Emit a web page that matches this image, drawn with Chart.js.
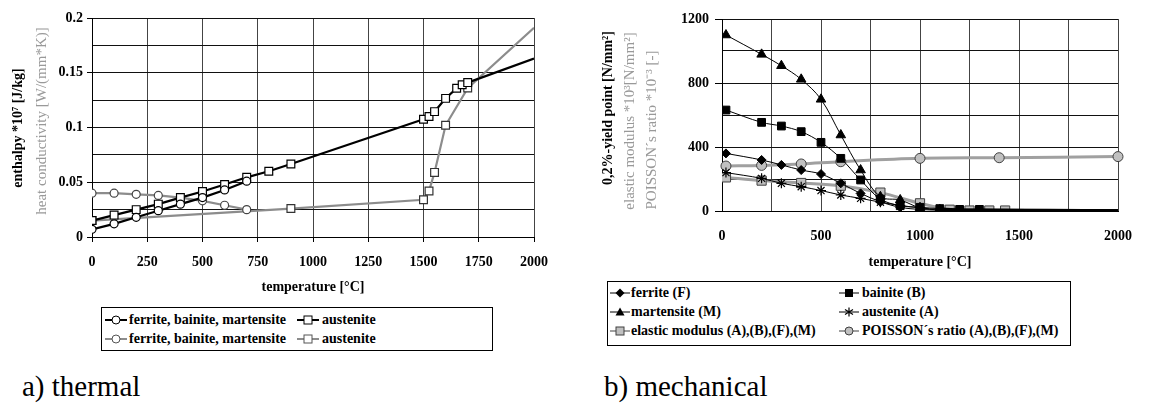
<!DOCTYPE html>
<html>
<head>
<meta charset="utf-8">
<script src="https://cdn.jsdelivr.net/npm/chart.js@4/dist/chart.umd.min.js"></script>
<style>
  body { margin: 0; background: #fff; width: 1149px; height: 405px; overflow: hidden; font-family: "Liberation Serif", "Times New Roman", serif; }
  .wrap { position: absolute; }
  .legend { position: absolute; border: 1px solid #000; font-weight: bold; font-size: 14px; color: #000; }
  .row { position: absolute; white-space: nowrap; height: 16px; line-height: 16px; }
  .row svg { position: absolute; left: 0; top: 2px; }
  .row span { position: absolute; }
  .cap { position: absolute; font-family: "Liberation Serif", serif; font-size: 29px; color: #000; }
</style>
</head>
<body>

<div class="wrap" style="left:0;top:0;width:560px;height:300px"><canvas id="thermal" width="560" height="300"></canvas></div>
<div class="wrap" style="left:580px;top:0;width:569px;height:275px"><canvas id="mech" width="569" height="275"></canvas></div>

<div class="legend" style="left:101px;top:307px;width:390px;height:42px">
  <div class="row" style="left:3px;top:4px">
    <svg width="22" height="12"><line x1="0" y1="6" x2="22" y2="6" stroke="#000" stroke-width="2"/><circle cx="11" cy="6" r="4" fill="#fff" stroke="#000"/></svg>
    <span style="left:24px">ferrite, bainite, martensite</span>
  </div>
  <div class="row" style="left:195px;top:4px">
    <svg width="22" height="12"><line x1="0" y1="6" x2="22" y2="6" stroke="#000" stroke-width="2"/><rect x="7" y="2" width="8" height="8" fill="#fff" stroke="#000"/></svg>
    <span style="left:25px">austenite</span>
  </div>
  <div class="row" style="left:3px;top:23px">
    <svg width="22" height="12"><line x1="0" y1="6" x2="22" y2="6" stroke="#8c8c8c" stroke-width="2"/><circle cx="11" cy="6" r="4" fill="#fff" stroke="#555"/></svg>
    <span style="left:24px">ferrite, bainite, martensite</span>
  </div>
  <div class="row" style="left:195px;top:23px">
    <svg width="22" height="12"><line x1="0" y1="6" x2="22" y2="6" stroke="#8c8c8c" stroke-width="2"/><rect x="7" y="2" width="8" height="8" fill="#fff" stroke="#555"/></svg>
    <span style="left:25px">austenite</span>
  </div>
</div>

<div class="legend" style="left:607px;top:281px;width:462px;height:63px">
  <div class="row" style="left:2px;top:3px">
    <svg width="20" height="12"><line x1="0" y1="6" x2="20" y2="6" stroke="#000"/><path d="M10 1.5 L14.5 6 L10 10.5 L5.5 6 Z" fill="#000"/></svg>
    <span style="left:21px">ferrite (F)</span>
  </div>
  <div class="row" style="left:231px;top:3px">
    <svg width="20" height="12"><line x1="0" y1="6" x2="20" y2="6" stroke="#000"/><rect x="6" y="2" width="8" height="8" fill="#000"/></svg>
    <span style="left:23px">bainite (B)</span>
  </div>
  <div class="row" style="left:2px;top:22px">
    <svg width="20" height="12"><line x1="0" y1="6" x2="20" y2="6" stroke="#000"/><path d="M10 1.5 L14.5 9.5 L5.5 9.5 Z" fill="#000"/></svg>
    <span style="left:21px">martensite (M)</span>
  </div>
  <div class="row" style="left:231px;top:22px">
    <svg width="20" height="12"><line x1="0" y1="6" x2="20" y2="6" stroke="#000"/><path d="M10 1.5 L10 10.5 M6 3.5 L14 8.5 M14 3.5 L6 8.5" stroke="#000" stroke-width="1.2"/></svg>
    <span style="left:23px">austenite (A)</span>
  </div>
  <div class="row" style="left:2px;top:41px">
    <svg width="20" height="12"><line x1="0" y1="6" x2="20" y2="6" stroke="#a0a0a0" stroke-width="2"/><rect x="6" y="2" width="8" height="8" fill="#c0c0c0" stroke="#404040"/></svg>
    <span style="left:21px">elastic modulus (A),(B),(F),(M)</span>
  </div>
  <div class="row" style="left:231px;top:41px">
    <svg width="20" height="12"><line x1="0" y1="6" x2="20" y2="6" stroke="#a0a0a0" stroke-width="2"/><circle cx="10" cy="6" r="4" fill="#c0c0c0" stroke="#404040"/></svg>
    <span style="left:23px">POISSON´s ratio (A),(B),(F),(M)</span>
  </div>
</div>

<div class="cap" style="left:22px;top:370px">a) thermal</div>
<div class="cap" style="left:604px;top:370px">b) mechanical</div>

<script>
// ---- a) thermal ----
const tEnthFBM = [0, 100, 200, 300, 400, 500, 600, 700];
const enthFBM = [0.007, 0.012, 0.018, 0.024, 0.030, 0.036, 0.043, 0.051];
const tEnthA = [0, 100, 200, 300, 400, 500, 600, 700, 800, 900, 1500, 1525, 1550, 1600, 1650, 1675, 1700, 2000];
const enthA = [0.015, 0.020, 0.025, 0.030, 0.036, 0.0415, 0.048, 0.0545, 0.060, 0.0667, 0.1075, 0.110, 0.1145, 0.1266, 0.1358, 0.139, 0.141, 0.163];
const tCondFBM = [0, 100, 200, 300, 400, 500, 600, 700];
const condFBM = [0.040, 0.040, 0.039, 0.038, 0.036, 0.033, 0.029, 0.025];
const tCondA = [0, 900, 1500, 1525, 1550, 1600, 1700, 2000];
const condA = [0.015, 0.026, 0.034, 0.042, 0.059, 0.102, 0.136, 0.191];

// ---- b) mechanical ----
const tF = [20, 200, 300, 400, 500, 600, 700, 800, 900, 1000, 1100, 2000];
const yieldF = [360, 319, 288, 256, 231, 173, 110, 58, 23, 10, 5, 3];
const tB = [20, 200, 300, 400, 500, 600, 700, 800, 900, 1000, 1100, 1200, 1300, 2000];
const yieldB = [631, 554, 531, 496, 429, 329, 194, 75, 33, 23, 15, 10, 10, 5];
const tM = [20, 200, 300, 400, 500, 600, 700, 800, 900, 1000, 1100, 2000];
const yieldM = [1100, 979, 908, 823, 698, 475, 256, 89, 69, 20, 8, 5];
const tA = [20, 200, 300, 400, 500, 600, 700, 800, 900, 1000, 1100, 2000];
const yieldA = [240, 204, 173, 152, 128, 100, 79, 55, 35, 20, 10, 4];
const tE = [20, 200, 400, 600, 800, 1000, 1150, 1250, 1350, 1430];
const elastic = [210, 190, 175, 158, 115, 48, 8, 3, 3, 3];
const tP = [20, 200, 400, 600, 1000, 1400, 2000];
const poisson = [281, 285, 294, 308, 329, 333, 340];

const pts = (xs, ys) => xs.map((x, i) => ({ x: x, y: ys[i] }));
// no marker on the point that just runs the line out to 2000
const noEnd = r => ctx => (ctx.raw && ctx.raw.x === 2000) ? 0 : r;

const serif = "'Liberation Serif', 'Times New Roman', serif";
Chart.defaults.font.family = serif;
Chart.defaults.font.size = 14;
Chart.defaults.color = "#000";

// rotated multi-colour axis titles
const sideTitles = {
    id: "sideTitles",
    afterDraw(chart, args, opts) {
        const ctx = chart.ctx;
        for (const l of opts.lines) {
            ctx.save();
            ctx.translate(l.x, l.y);
            ctx.rotate(-Math.PI / 2);
            ctx.font = l.font;
            ctx.fillStyle = l.color;
            ctx.textAlign = "center";
            ctx.textBaseline = "middle";
            ctx.fillText(l.text, 0, 0);
            ctx.restore();
        }
    }
};

const black = "#000";
const gray = "#8c8c8c";

new Chart(document.getElementById("thermal"), {
    type: "line",
    data: {
        datasets: [
            { data: pts(tEnthFBM, enthFBM), borderColor: black, borderWidth: 2.2, pointStyle: "circle", pointRadius: 4, pointBackgroundColor: "#fff", pointBorderColor: black, pointBorderWidth: 1.2 },
            { data: pts(tEnthA, enthA), borderColor: black, borderWidth: 2.2, pointStyle: "rect", pointRadius: noEnd(5.5), pointBackgroundColor: "#fff", pointBorderColor: black, pointBorderWidth: 1.2 },
            { data: pts(tCondFBM, condFBM), borderColor: gray, borderWidth: 2.2, pointStyle: "circle", pointRadius: 4, pointBackgroundColor: "#fff", pointBorderColor: "#444", pointBorderWidth: 1.2 },
            { data: pts(tCondA, condA), borderColor: gray, borderWidth: 2.2, pointStyle: "rect", pointRadius: noEnd(5.5), pointBackgroundColor: "#fff", pointBorderColor: "#333", pointBorderWidth: 1.2 }
        ]
    },
    options: {
        responsive: false,
        animation: false,
        layout: { padding: { left: 52, top: 18, right: 16, bottom: 0 } },
        plugins: {
            legend: { display: false },
            tooltip: { enabled: false },
            sideTitles: {
                lines: [
                    { text: "enthalpy *10⁷ [J/kg]", x: 18, y: 128, font: "bold 14px " + serif, color: "#000" },
                    { text: "heat conductivity [W/(mm*K)]", x: 42, y: 121, font: "15px " + serif, color: "#999" }
                ]
            }
        },
        scales: {
            x: {
                type: "linear", min: 0, max: 2000,
                afterFit: s => { s.height = 63; },
                ticks: { stepSize: 250, autoSkip: false, maxRotation: 0, padding: 12, font: { weight: "bold" }, callback: v => String(v) },
                grid: { color: "#444", tickLength: 5, tickColor: "#000" },
                border: { color: "#000" },
                title: { display: true, text: "temperature [°C]", font: { weight: "bold" }, padding: { top: 0, bottom: 4 } }
            },
            y: {
                min: 0, max: 0.2,
                afterFit: s => { s.width = 40; },
                ticks: {
                    stepSize: 0.025, padding: 4, font: { weight: "bold" },
                    callback: v => (Math.round(v * 1000) % 50 === 0) ? String(Math.round(v * 1000) / 1000) : ""
                },
                grid: {
                    color: "#111", tickLength: 5,
                    tickColor: c => (c.tick && Math.round(c.tick.value * 1000) % 50 === 0) ? "#000" : "rgba(0,0,0,0)"
                },
                border: { color: "#000" }
            }
        }
    },
    plugins: [sideTitles]
});

const lgray = "#a0a0a0";
const smooth = 0.35;
// the yield curves pile up on the zero line past ~1100 °C
const tail = { borderWidth: c => c.p0.parsed.x >= 1100 ? 2 : 1 };

new Chart(document.getElementById("mech"), {
    type: "line",
    data: {
        datasets: [
            { data: pts(tM, yieldM), borderColor: black, borderWidth: 1, segment: tail, tension: smooth, pointStyle: "triangle", pointRadius: noEnd(5.5), pointBackgroundColor: black, pointBorderColor: black },
            { data: pts(tB, yieldB), borderColor: black, borderWidth: 1, segment: tail, tension: smooth, pointStyle: "rect", pointRadius: noEnd(5.5), pointBackgroundColor: black, pointBorderColor: black },
            { data: pts(tF, yieldF), borderColor: black, borderWidth: 1, segment: tail, tension: smooth, pointStyle: "rectRot", pointRadius: noEnd(4.5), pointBackgroundColor: black, pointBorderColor: black },
            { data: pts(tA, yieldA), borderColor: black, borderWidth: 1, segment: tail, tension: smooth, pointStyle: "star", pointRadius: noEnd(5), pointBackgroundColor: black, pointBorderColor: black, pointBorderWidth: 1.2 },
            { data: pts(tE, elastic), borderColor: lgray, borderWidth: 3, tension: smooth, pointStyle: "rect", pointRadius: 6.5, pointBackgroundColor: "#c0c0c0", pointBorderColor: "#404040", pointBorderWidth: 1 },
            { data: pts(tP, poisson), borderColor: lgray, borderWidth: 3, tension: smooth, clip: 8, pointStyle: "circle", pointRadius: 5, pointBackgroundColor: "#c0c0c0", pointBorderColor: "#404040", pointBorderWidth: 1 }
        ]
    },
    options: {
        responsive: false,
        animation: false,
        layout: { padding: { left: 100, top: 19, right: 23, bottom: 0 } },
        plugins: {
            legend: { display: false },
            tooltip: { enabled: false },
            sideTitles: {
                lines: [
                    { text: "0,2%-yield point [N/mm²]", x: 28, y: 108, font: "bold 14px " + serif, color: "#000" },
                    { text: "elastic modulus *10³[N/mm²]", x: 50, y: 121, font: "15px " + serif, color: "#999" },
                    { text: "POISSON´s ratio *10⁻³ [-]", x: 72, y: 130, font: "15px " + serif, color: "#999" }
                ]
            }
        },
        scales: {
            x: {
                type: "linear", min: 0, max: 2000,
                afterFit: s => { s.height = 64; },
                ticks: {
                    stepSize: 250, autoSkip: false, maxRotation: 0, padding: 17, font: { weight: "bold" },
                    callback: v => (v % 500 === 0) ? String(v) : ""
                },
                grid: { color: "#444", drawTicks: false },
                border: { color: "#000" },
                title: { display: true, text: "temperature [°C]", font: { weight: "bold" }, padding: { top: 0, bottom: 4 } }
            },
            y: {
                min: 0, max: 1200,
                afterFit: s => { s.width = 42; },
                ticks: {
                    stepSize: 200, padding: 6, font: { weight: "bold" },
                    callback: v => (v % 400 === 0) ? String(v) : ""
                },
                grid: {
                    color: "#111", tickLength: 7,
                    tickColor: c => (c.tick && c.tick.value % 400 === 0) ? "#000" : "rgba(0,0,0,0)"
                },
                border: { color: "#000" }
            }
        }
    },
    plugins: [sideTitles]
});
</script>
</body>
</html>
